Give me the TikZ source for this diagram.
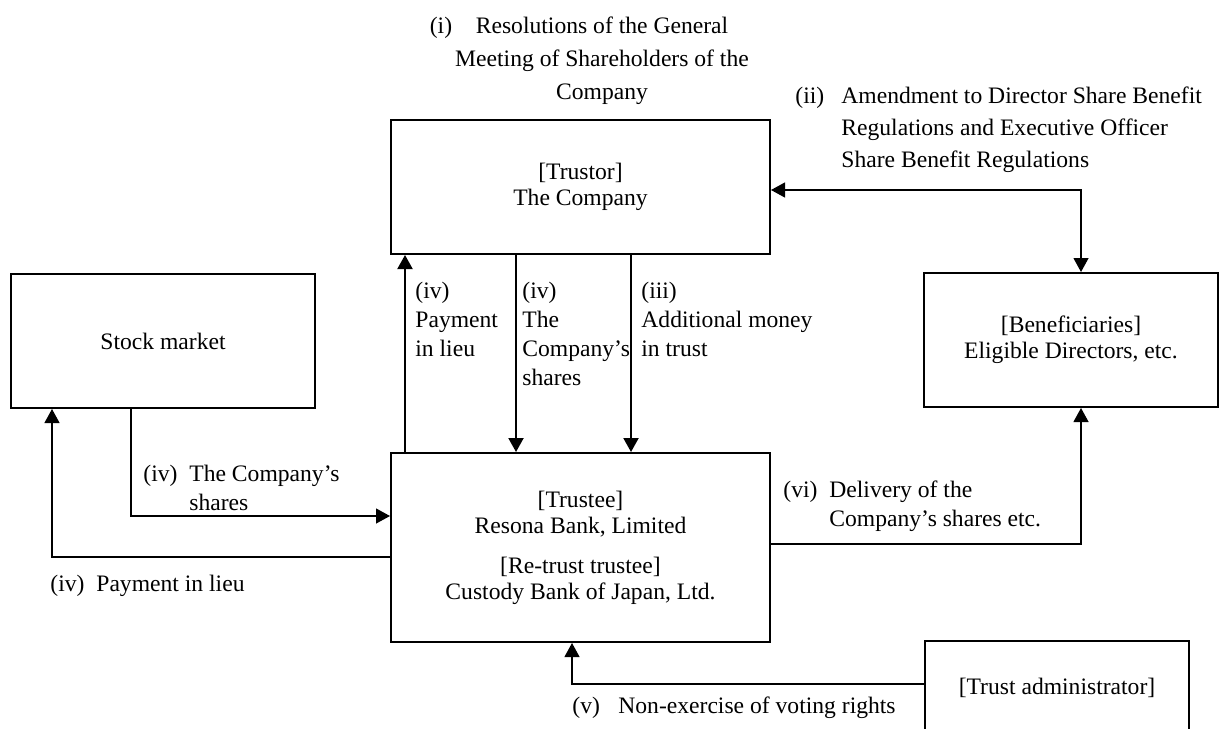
\documentclass[tikz,border=0pt]{standalone}
\usepackage{fontspec}
\setmainfont{Liberation Serif}
\usetikzlibrary{positioning,arrows.meta}
\newcommand{\hng}[1]{\makebox[23pt][l]{#1}}
\newcommand{\ind}{\hspace*{23pt}}

\begin{document}
\begin{tikzpicture}[x=0.5pt,y=-0.5pt,font=\fontsize{11.8}{13}\selectfont,
  box/.style={draw,rectangle,line width=1pt,align=center,inner sep=0pt},
  ar/.style={-{Triangle[length=7pt,width=7.5pt]},line width=0.6pt},
  ar2/.style={{Triangle[length=7pt,width=7.5pt]}-{Triangle[length=7pt,width=7.5pt]},line width=0.6pt},
  lbl/.style={anchor=base west,align=left,inner sep=0pt,font=\fontsize{11.8}{14.5}\selectfont}]
  \useasboundingbox (0,0) rectangle (1219,728);
  % boxes
  \node[box,minimum width=189.5pt,minimum height=67pt](trustor) at (580.5,187){[Trustor]\\The Company};
  \node[box,minimum width=152pt,minimum height=67pt](stock) at (163,341){Stock market};
  \node[box,minimum width=147pt,minimum height=67pt](benef) at (1071,340){[Beneficiaries]\\Eligible Directors, etc.};
  \node[box,minimum width=189.5pt,minimum height=94.5pt](trustee) at (580.5,547.5){[Trustee]\\Resona Bank, Limited\\[7pt]{[}Re-trust trustee]\\Custody Bank of Japan, Ltd.};
  \node[box,minimum width=132pt,minimum height=47pt](admin) at (1057,688){[Trust administrator]};
  % labels (placed at the baseline of their last line)
  \node[lbl,anchor=base,align=center,font=\fontsize{11.8}{16.5}\selectfont](resol) at (602,99){\llap{\hng{(i)}}Resolutions of the General\\Meeting of Shareholders of the\\Company};
  \node[lbl,font=\fontsize{11.8}{16}\selectfont](amend) at (795,167){\hng{(ii)}Amendment to Director Share Benefit\\\ind Regulations and Executive Officer\\\ind Share Benefit Regulations};
  \node[lbl](pay) at (415,356){(iv)\\Payment\\in lieu};
  \node[lbl](shr) at (522,385){(iv)\\The\\Company's\\shares};
  \node[lbl](money) at (641,356){(iii)\\Additional money\\in trust};
  \node[lbl](mkt) at (143,510){\hng{(iv)}The Company's\\\ind shares};
  \node[lbl](lieu) at (50,591){\hng{(iv)}Payment in lieu};
  \node[lbl](deliv) at (783,526){\hng{(vi)}Delivery of the\\\ind Company's shares etc.};
  \node[lbl](vote) at (572,713){\hng{(v)}Non-exercise of voting rights};
  % connector positions
  \coordinate (xa) at (405,0);
  \coordinate (xb) at (516,0);
  \coordinate (xc) at (631,0);
  \coordinate (xd) at (1081,0);
  \coordinate (xe) at (131,0);
  \coordinate (xf) at (52,0);
  \coordinate (xg) at (572,0);
  \coordinate (ya) at (0,190);
  \coordinate (yb) at (0,516);
  \coordinate (yc) at (0,557);
  \coordinate (yd) at (0,544);
  \coordinate (ye) at (0,684);
  % connectors
  \draw[ar,line width=1pt](trustee.north -| xa)--(trustor.south -| xa);
  \draw[ar,line width=1pt](trustor.south -| xb)--(trustee.north -| xb);
  \draw[ar,line width=1pt](trustor.south -| xc)--(trustee.north -| xc);
  \draw[ar2](trustor.east |- ya) -| (benef.north -| xd);
  \draw[ar](stock.south -| xe) |- (trustee.west |- yb);
  \draw[ar](trustee.west |- yc) -| (stock.south -| xf);
  \draw[ar](trustee.east |- yd) -| (benef.south -| xd);
  \draw[ar](admin.west |- ye) -| (trustee.south -| xg);
\end{tikzpicture}
\end{document}
